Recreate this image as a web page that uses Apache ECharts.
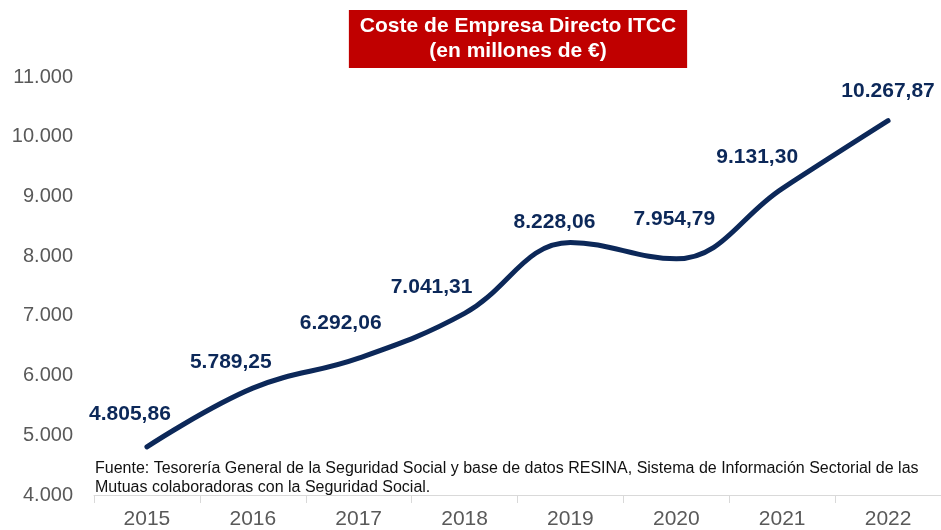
<!DOCTYPE html>
<html>
<head>
<meta charset="utf-8">
<script src="https://cdn.jsdelivr.net/npm/echarts@6/dist/echarts.min.js"></script>
<style>
  html, body { margin: 0; padding: 0; background: #fff; }
  #chart { width: 941px; height: 530px; }
</style>
</head>
<body>
<div id="chart"></div>
<script>
// datos
const years = ['2015', '2016', '2017', '2018', '2019', '2020', '2021', '2022'];
const coste = [4805.86, 5789.25, 6292.06, 7041.31, 8228.06, 7954.79, 9131.30, 10267.87];
const titulo = 'Coste de Empresa Directo ITCC\n(en millones de €)';
const fuente = [
  'Fuente: Tesorería General de la Seguridad Social y base de datos RESINA, Sistema de Información Sectorial de las',
  'Mutuas colaboradoras con la Seguridad Social.'
];

// desplazamiento de las etiquetas (solo maquetación)
const labelShift = [[-17, -16], [-22, -9], [-18, -18], [-33, -10], [-16, -4], [-2, -23], [-25, -15], [0, -13]];

const NAVY = '#0c2859';
const FONT = '"Liberation Sans", Arial, sans-serif';

function fmtEs(v, dec) {
  const parts = v.toFixed(dec).split('.');
  const ent = parts[0].replace(/\B(?=(\d{3})+(?!\d))/g, '.');
  return parts.length > 1 ? ent + ',' + parts[1] : ent;
}

const chart = echarts.init(document.getElementById('chart'));

chart.setOption({
  backgroundColor: '#fff',
  animation: false,
  title: {
    text: titulo,
    left: 507,
    top: 10,
    textAlign: 'center',
    padding: [4, 11],
    backgroundColor: '#c00000',
    textStyle: {
      color: '#fff',
      fontFamily: FONT,
      fontSize: 21,
      fontWeight: 'bold',
      lineHeight: 25
    }
  },
  grid: {
    left: 94,
    right: -7,
    top: 77,
    bottom: 35
  },
  xAxis: {
    type: 'category',
    data: years,
    boundaryGap: true,
    axisLine: { show: true, lineStyle: { color: '#d9d9d9', width: 1 } },
    axisTick: { show: true, length: 8, lineStyle: { color: '#d9d9d9' } },
    axisLabel: { color: '#595959', fontFamily: FONT, fontSize: 21, margin: 14 }
  },
  yAxis: {
    type: 'value',
    min: 4000,
    max: 11000,
    interval: 1000,
    axisLine: { show: false },
    axisTick: { show: false },
    splitLine: { show: false },
    axisLabel: {
      color: '#595959',
      fontFamily: FONT,
      fontSize: 20,
      margin: 21,
      formatter: v => fmtEs(v, 0)
    }
  },
  graphic: [
    {
      type: 'text',
      left: 95,
      top: 459,
      style: {
        text: fuente.join('\n'),
        fill: '#111',
        font: '16px ' + FONT,
        lineHeight: 19
      }
    }
  ],
  series: [
    {
      type: 'line',
      data: coste.map((v, i) => ({
        value: v,
        label: { offset: labelShift[i] }
      })),
      smooth: 0.4,
      symbol: 'circle',
      symbolSize: 2,
      showSymbol: true,
      itemStyle: { color: NAVY },
      lineStyle: { color: NAVY, width: 5, cap: 'round' },
      label: {
        show: true,
        position: 'top',
        color: NAVY,
        fontFamily: FONT,
        fontSize: 21,
        fontWeight: 'bold',
        formatter: p => fmtEs(p.value, 2)
      }
    }
  ]
});
</script>
</body>
</html>
